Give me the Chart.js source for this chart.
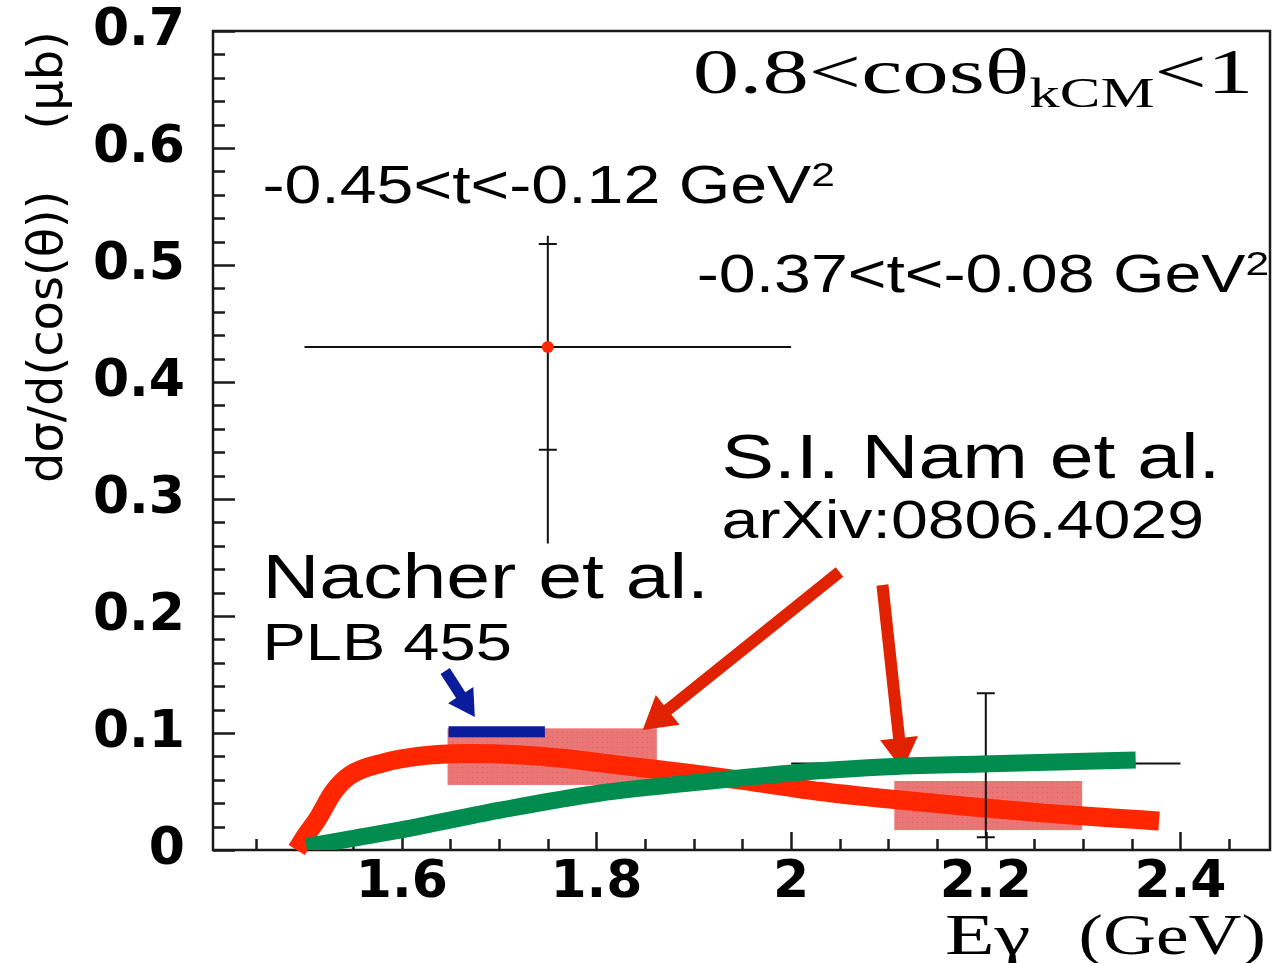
<!DOCTYPE html>
<html>
<head>
<meta charset="utf-8">
<script src="https://cdn.jsdelivr.net/npm/chart.js@4.4.1/dist/chart.umd.min.js"></script>
<style>
  html, body { margin: 0; padding: 0; background: #fff; }
  canvas { display: block; }
</style>
</head>
<body>
<canvas id="c" width="1276" height="963"></canvas>
<script>
// axis ticks
const xTicks = [1.6, 1.8, 2.0, 2.2, 2.4];
const yTicks = [0, 0.1, 0.2, 0.3, 0.4, 0.5, 0.6, 0.7];

// S.I. Nam et al. (red curve)
const namE     = [1.492, 1.501, 1.513, 1.530, 1.547, 1.581, 1.616, 1.667, 1.718, 1.770, 1.804, 1.850, 1.900, 1.950, 2.030, 2.090, 2.190, 2.260, 2.360, 2.378];
const namSigma = [0.000, 0.012, 0.026, 0.050, 0.064, 0.0745, 0.080, 0.0825, 0.0815, 0.078, 0.0745, 0.070, 0.065, 0.0595, 0.050, 0.0445, 0.0365, 0.0315, 0.0258, 0.0248];

// green curve
const greenE     = [1.502, 1.550, 1.598, 1.701, 1.804, 1.906, 1.957, 2.029, 2.094, 2.196, 2.354];
const greenSigma = [0.003, 0.010, 0.017, 0.034, 0.0487, 0.058, 0.0624, 0.0677, 0.071, 0.0735, 0.077];

// Nacher et al. (blue)
const nacherE     = [1.648, 1.747];
const nacherSigma = [0.101, 0.101];

// measured points
const dataE     = [1.75, 2.2];
const dataSigma = [0.43, 0.074];
const dataELo   = [1.5, 2.0];
const dataEHi   = [2.0, 2.4];
const dataSigLo = [0.262, 0.011];
const dataSigHi = [0.525, 0.134];
const capSigLo  = [0.342, 0.011];
const capSigHi  = [0.518, 0.134];

// shaded bands
const bandELo   = [1.647, 2.106];
const bandEHi   = [1.862, 2.299];
const bandSigLo = [0.0556, 0.017];
const bandSigHi = [0.104, 0.059];

// arrows: tail -> tip
const arrowTailE = [1.6445, 2.0497, 2.0938];
const arrowTailS = [0.1530, 0.2376, 0.2265];
const arrowTipE  = [1.6750, 1.8475, 2.1144];
const arrowTipS  = [0.1137, 0.1026, 0.0684];
const arrowColor = ['#0a1c9c', '#e02200', '#e02200'];

function pts(xs, ys) { return xs.map((x, i) => ({ x: x, y: ys[i] })); }

function stretchText(ctx, x, y, parts, sx, align) {
  ctx.save();
  ctx.translate(x, y);
  ctx.scale(sx, 1);
  ctx.textBaseline = 'alphabetic';
  ctx.textAlign = 'left';
  let total = 0;
  parts.forEach(p => { ctx.font = p.f; total += ctx.measureText(p.t).width; });
  let cx = align === 'right' ? -total : 0;
  parts.forEach(p => {
    ctx.font = p.f;
    ctx.fillText(p.t, cx, p.dy || 0);
    cx += ctx.measureText(p.t).width;
  });
  ctx.restore();
}

function arrow(ctx, x0, y0, x1, y1, w, hl, hw) {
  const len = Math.hypot(x1 - x0, y1 - y0);
  ctx.save();
  ctx.translate(x0, y0);
  ctx.rotate(Math.atan2(y1 - y0, x1 - x0));
  ctx.beginPath();
  ctx.moveTo(0, -w / 2);
  ctx.lineTo(len - hl, -w / 2);
  ctx.lineTo(len - hl, -hw / 2);
  ctx.lineTo(len, 0);
  ctx.lineTo(len - hl, hw / 2);
  ctx.lineTo(len - hl, w / 2);
  ctx.lineTo(0, w / 2);
  ctx.closePath();
  ctx.fill();
  ctx.restore();
}

const decor = {
  id: 'decor',
  beforeDatasetsDraw(chart) {
    const ctx = chart.ctx, a = chart.chartArea;
    const xs = chart.scales.x, ys = chart.scales.y;
    ctx.save();
    // frame
    ctx.strokeStyle = '#1a1a1a';
    ctx.lineWidth = 2.5;
    ctx.strokeRect(a.left, a.top, a.right - a.left, a.bottom - a.top);
    // inward ticks
    ctx.beginPath();
    for (let v = 0; v <= 0.7001; v += 0.02) {
      const py = Math.round(ys.getPixelForValue(v)) + 0.5;
      const major = Math.abs(v * 10 - Math.round(v * 10)) < 1e-6;
      ctx.moveTo(a.left, py);
      ctx.lineTo(a.left + (major ? 22 : 12), py);
    }
    for (let v = 1.45; v <= 2.4501; v += 0.05) {
      const px = Math.round(xs.getPixelForValue(v)) + 0.5;
      const major = Math.abs(v * 5 - Math.round(v * 5)) < 1e-6;
      ctx.moveTo(px, a.bottom);
      ctx.lineTo(px, a.bottom - (major ? 18 : 11));
    }
    ctx.stroke();

    // shaded bands
    const p = document.createElement('canvas');
    p.width = 5; p.height = 5;
    const pc = p.getContext('2d');
    pc.fillStyle = '#ea7676'; pc.fillRect(0, 0, 5, 5);
    pc.fillStyle = '#dd5c5c'; pc.fillRect(2, 2, 1, 1);
    ctx.fillStyle = ctx.createPattern(p, 'repeat');
    bandELo.forEach((e, i) => {
      const x0 = xs.getPixelForValue(e), x1 = xs.getPixelForValue(bandEHi[i]);
      const y0 = ys.getPixelForValue(bandSigHi[i]), y1 = ys.getPixelForValue(bandSigLo[i]);
      ctx.fillRect(x0, y0, x1 - x0, y1 - y0);
    });

    // arrows
    arrowTailE.forEach((e, i) => {
      ctx.fillStyle = arrowColor[i];
      const big = i > 0;
      arrow(ctx, xs.getPixelForValue(e), ys.getPixelForValue(arrowTailS[i]),
            xs.getPixelForValue(arrowTipE[i]), ys.getPixelForValue(arrowTipS[i]),
            big ? 12 : 11, big ? 32 : 26, big ? 38 : 30);
    });
    ctx.restore();
  },
  beforeDatasetDraw(chart, args) {
    if (args.index !== 1) return;
    const ctx = chart.ctx;
    const xs = chart.scales.x, ys = chart.scales.y;
    ctx.save();
    ctx.strokeStyle = '#111';
    ctx.lineWidth = 2;
    ctx.beginPath();
    dataE.forEach((e, i) => {
      const px = xs.getPixelForValue(e), py = ys.getPixelForValue(dataSigma[i]);
      ctx.moveTo(xs.getPixelForValue(dataELo[i]), py);
      ctx.lineTo(xs.getPixelForValue(dataEHi[i]), py);
      ctx.moveTo(px, ys.getPixelForValue(dataSigLo[i]));
      ctx.lineTo(px, ys.getPixelForValue(dataSigHi[i]));
      [capSigLo[i], capSigHi[i]].forEach(c => {
        const cy = ys.getPixelForValue(c);
        ctx.moveTo(px - 9, cy);
        ctx.lineTo(px + 9, cy);
      });
    });
    ctx.stroke();
    ctx.restore();
  },
  afterDraw(chart) {
    const ctx = chart.ctx, a = chart.chartArea;
    const xs = chart.scales.x, ys = chart.scales.y;
    const X = v => xs.getPixelForValue(v), Y = v => ys.getPixelForValue(v);
    ctx.save();
    ctx.fillStyle = '#000';
    const sans = s => s + 'px "Liberation Sans", Arial, sans-serif';
    const serif = s => s + 'px "Liberation Serif", "Times New Roman", serif';
    stretchText(ctx, X(1.899), Y(0.647), [
      { t: '0.8<cosθ', f: serif(64) },
      { t: 'kCM', f: serif(42), dy: 14 },
      { t: '<1', f: serif(64) }
    ], 1.45);
    stretchText(ctx, X(1.4568), Y(0.553), [
      { t: '-0.45<t<-0.12 GeV', f: sans(53) },
      { t: '2', f: sans(34), dy: -17 }
    ], 1.25);
    stretchText(ctx, X(1.903), Y(0.477), [
      { t: '-0.37<t<-0.08 GeV', f: sans(53) },
      { t: '2', f: sans(34), dy: -17 }
    ], 1.25);
    stretchText(ctx, X(1.9285), Y(0.318), [{ t: 'S.I. Nam et al.', f: sans(63) }], 1.25);
    stretchText(ctx, X(1.9285), Y(0.2667), [{ t: 'arXiv:0806.4029', f: sans(53) }], 1.25);
    stretchText(ctx, X(1.4568), Y(0.2154), [{ t: 'Nacher et al.', f: sans(63) }], 1.25);
    stretchText(ctx, X(1.4568), Y(0.1624), [{ t: 'PLB 455', f: sans(52) }], 1.25);
    // x axis title
    stretchText(ctx, 945, a.bottom + 104, [{ t: 'Eγ', f: serif(56) }], 1.45);
    stretchText(ctx, a.right - 4, a.bottom + 104, [{ t: '(GeV)', f: serif(56) }], 1.31, 'right');
    ctx.restore();
  }
};

const curve = {
  pointRadius: 0,
  borderJoinStyle: 'round',
  borderCapStyle: 'butt',
  cubicInterpolationMode: 'monotone',
  fill: false
};

new Chart(document.getElementById('c').getContext('2d'), {
  type: 'line',
  data: {
    datasets: [
      Object.assign({ label: 'green', data: pts(greenE, greenSigma), borderColor: '#008c4e', borderWidth: 17, order: 1 }, curve),
      { type: 'scatter', label: 'data', data: pts(dataE, dataSigma), showLine: false,
        pointRadius: 6, pointBackgroundColor: '#ff2a00', pointBorderWidth: 0, order: 2 },
      Object.assign({ label: 'Nam', data: pts(namE, namSigma), borderColor: '#ff2600', borderWidth: 19, order: 3, clip: false }, curve),
      Object.assign({ label: 'Nacher', data: pts(nacherE, nacherSigma), borderColor: '#0a1c9c', borderWidth: 11, order: 4 }, curve)
    ]
  },
  options: {
    responsive: false,
    animation: false,
    devicePixelRatio: 1,
    layout: { padding: { top: 31, right: 4, left: 0, bottom: 0 } },
    plugins: { legend: { display: false }, tooltip: { enabled: false } },
    scales: {
      x: {
        type: 'linear', min: 1.406, max: 2.492,
        grid: { display: false, drawTicks: false },
        border: { display: false },
        afterBuildTicks: s => { s.ticks = xTicks.map(v => ({ value: v })); },
        afterFit: s => { s.height = 113; s.paddingLeft = 0; s.paddingRight = 0; },
        ticks: {
          autoSkip: false, maxRotation: 0, padding: 2, color: '#000',
          font: { family: '"DejaVu Sans"', size: 52, weight: 'bold' },
          callback: v => String(Math.round(v * 10) / 10)
        }
      },
      y: {
        type: 'linear', min: 0, max: 0.7,
        grid: { display: false, drawTicks: false },
        border: { display: false },
        afterBuildTicks: s => { s.ticks = yTicks.map(v => ({ value: v })); },
        afterFit: s => { s.width = 213; s.paddingTop = 0; s.paddingBottom = 0; },
        ticks: {
          autoSkip: false, padding: 28, color: '#000',
          font: { family: '"DejaVu Sans"', size: 52, weight: 'bold' },
          callback: v => String(Math.round(v * 10) / 10)
        },
        title: {
          display: true, align: 'end', color: '#000',
          text: 'dσ/d(cos(θ))    (μb)',
          font: { family: '"DejaVu Sans"', size: 48 },
          padding: { top: 21, bottom: 0 }
        }
      }
    }
  },
  plugins: [decor]
});
</script>
</body>
</html>
